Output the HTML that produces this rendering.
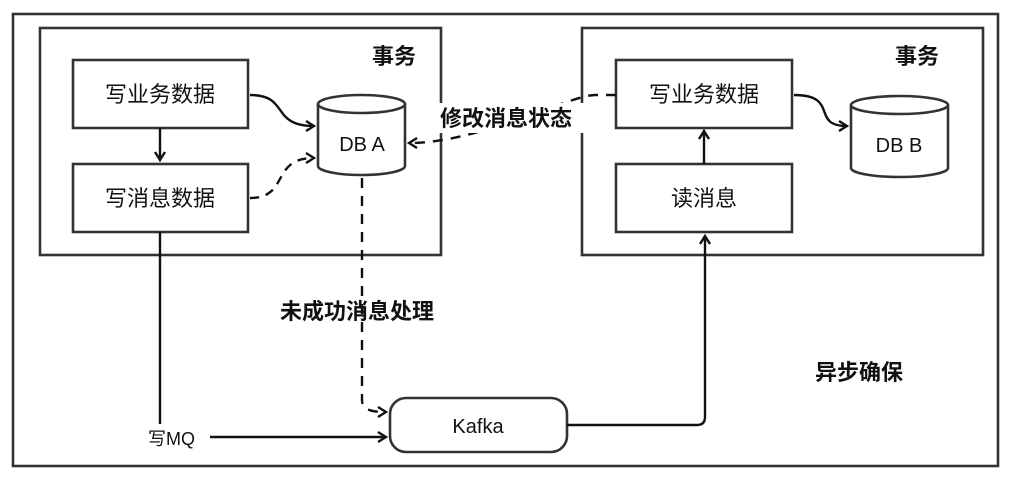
<!DOCTYPE html>
<html><head><meta charset="utf-8"><style>
body{margin:0;background:#fff}
svg text{font-family:"Liberation Sans","Noto Sans CJK SC",sans-serif;fill:#111}
</style></head><body>
<svg width="1012" height="490" viewBox="0 0 1012 490" xmlns="http://www.w3.org/2000/svg">
<defs><marker id="a" markerWidth="12" markerHeight="12" refX="10" refY="6" orient="auto" markerUnits="userSpaceOnUse"><path d="M2,1 L10,6 L2,11" fill="none" stroke="#111" stroke-width="2.4"/></marker></defs>
<g fill="none" stroke="#333" stroke-width="2.6">
<rect x="13" y="14" width="985" height="452"/>
<rect x="40" y="28" width="401" height="227"/>
<rect x="582" y="28" width="401" height="227"/>
<rect x="73" y="60" width="175" height="68"/>
<rect x="73" y="164" width="175" height="68"/>
<rect x="616" y="60" width="176" height="68"/>
<rect x="616" y="164" width="176" height="68"/>
<rect x="390" y="398" width="177" height="54" rx="16"/>
<path d="M318,104 V166 A43.5,9 0 0 0 405,166 V104" fill="#fff"/>
<ellipse cx="361.5" cy="104" rx="43.5" ry="9" fill="#fff"/>
<path d="M851,105 V168 A48.5,9 0 0 0 948,168 V105" fill="#fff"/>
<ellipse cx="899.5" cy="105" rx="48.5" ry="9" fill="#fff"/>
</g>
<g fill="none" stroke="#111" stroke-width="2.4">
<path d="M250,95 C290,95 270,126 314,126" marker-end="url(#a)"/>
<path d="M160,128 V160" marker-end="url(#a)"/>
<path d="M250,198 C290,198 270,158 314,158" stroke-dasharray="9,7" marker-end="url(#a)"/>
<path d="M616,95 H595 C570,95 480,143 409,143" stroke-dasharray="10,8" marker-end="url(#a)"/>
<path d="M794,95 C840,95 810,126 847,126" marker-end="url(#a)"/>
<path d="M704,164 V131" marker-end="url(#a)"/>
<path d="M362,178 V400 C362,410 372,412 386,412" stroke-dasharray="10,8" marker-end="url(#a)"/>
<path d="M160,232 V424"/>
<path d="M210,437 H386" marker-end="url(#a)"/>
<path d="M567,425 H697 Q705,425 705,417 V236" marker-end="url(#a)"/>
</g>
<g font-size="22" text-anchor="middle">
<text x="160" y="102">写业务数据</text>
<text x="160" y="206">写消息数据</text>
<text x="704" y="102">写业务数据</text>
<text x="704" y="206">读消息</text>
<text x="362" y="151" font-size="20">DB A</text>
<text x="899" y="152" font-size="20">DB B</text>
<text x="478" y="433" font-size="20">Kafka</text>
</g>
<g font-size="22" font-weight="bold">
<text x="372" y="64">事务</text>
<text x="895" y="64">事务</text>
<rect x="437" y="103" width="150" height="30" fill="#fff"/>
<text x="440" y="126">修改消息状态</text>
<text x="280" y="319">未成功消息处理</text>
<text x="815" y="380">异步确保</text>
</g>
<text x="148" y="445" font-size="18">写MQ</text>
</svg>
</body></html>
